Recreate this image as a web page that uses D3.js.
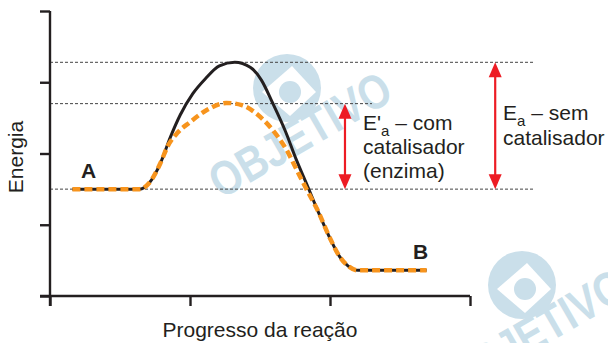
<!DOCTYPE html>
<html lang="pt">
<head>
<meta charset="UTF-8">
<title>Energia de ativação</title>
<style>
  body { margin: 0; background: #fff; }
  svg { display: block; font-family: "Liberation Sans", Arial, sans-serif; }
</style>
</head>
<body>
<svg id="chart" width="608" height="343"></svg>
<script src="https://d3js.org/d3.v7.min.js"></script>
<script>

    // curve without catalyst (black, solid)
    var progressUncat = [0.16, 0.64, 0.71, 0.79, 0.86, 0.93, 1.02, 1.11, 1.21, 1.32, 1.43, 1.51, 1.59, 1.68, 1.76, 1.84, 1.91, 2.0, 2.07, 2.13, 2.2, 2.69];
    var energyUncat   = [1.5, 1.5, 1.59, 1.87, 2.23, 2.54, 2.84, 3.05, 3.23, 3.28, 3.21, 3.03, 2.71, 2.32, 1.91, 1.54, 1.21, 0.81, 0.55, 0.42, 0.36, 0.36];

    // curve with catalyst / enzyme (orange, dashed)
    var progressCat = [0.16, 0.64, 0.71, 0.79, 0.84, 0.91, 1.0, 1.12, 1.26, 1.37, 1.48, 1.59, 1.69, 1.77, 1.84, 1.91, 2.0, 2.07, 2.13, 2.2, 2.69];
    var energyCat   = [1.5, 1.5, 1.59, 1.87, 2.1, 2.29, 2.44, 2.61, 2.71, 2.68, 2.55, 2.33, 2.05, 1.74, 1.47, 1.21, 0.81, 0.55, 0.42, 0.36, 0.36];

    // energy levels: reactants, peak with catalyst, peak without catalyst
    var levels = [
        {name: "reagentes", e: 1.5,  end: 3.46},
        {name: "cat",       e: 2.7,  end: 2.3},
        {name: "semcat",    e: 3.28, end: 3.46}
    ];

    var xTicks = [0, 1, 2, 3];
    var yTicks = [0, 1, 2, 3, 4];

    var svg = d3.select("#chart"),
        ink = "#231f20",
        red = "#ed1c24",
        orange = "#f7941d",
        wm = "#cadfea";

    var x = d3.scaleLinear().domain([0, 3]).range([50, 470]),
        y = d3.scaleLinear().domain([0, 4]).range([296, 11]);

    // watermark (behind everything)
    function watermark(dx, dy) {
        var g = svg.append("g").attr("transform", "translate(" + dx + "," + dy + ")");
        g.append("circle").attr("cx", 287).attr("cy", 88).attr("r", 34).attr("fill", wm);
        g.append("path")
            .attr("d", "M262,92 L292,66 L316,92 L290,116 Z")
            .attr("fill", "#fff");
        g.append("circle").attr("cx", 290).attr("cy", 92).attr("r", 11).attr("fill", wm);
        g.append("text")
            .attr("transform", "translate(302,138) rotate(-30) scale(0.95,1.15)")
            .attr("text-anchor", "middle")
            .attr("dominant-baseline", "middle")
            .attr("font-size", 42)
            .attr("font-weight", "bold")
            .attr("fill", wm)
            .text("OBJETIVO");
    }
    watermark(0, 0);
    watermark(235, 197);

    // dashed reference lines
    svg.append("g").selectAll("line")
        .data(levels)
        .join("line")
        .attr("x1", x(0)).attr("x2", function (d) { return x(d.end); })
        .attr("y1", function (d) { return y(d.e); })
        .attr("y2", function (d) { return y(d.e); })
        .attr("stroke", "#444")
        .attr("stroke-width", 1)
        .attr("stroke-dasharray", "3,2");

    // axes
    var xAxis = d3.axisBottom(x).tickValues(xTicks).tickSize(10).tickSizeOuter(0).tickFormat("");
    var yAxis = d3.axisLeft(y).tickValues(yTicks).tickSize(10).tickSizeOuter(0).tickFormat("");

    var gx = svg.append("g").attr("transform", "translate(0," + y(0) + ")").call(xAxis);
    var gy = svg.append("g").attr("transform", "translate(" + x(0) + ",0)").call(yAxis);
    [gx, gy].forEach(function (g) {
        g.select(".domain").remove();
        g.selectAll(".tick line").attr("stroke", ink).attr("stroke-width", 2.4);
    });
    // axis lines, crossing a bit past the origin
    svg.append("line").attr("x1", x(0) - 10).attr("x2", x(3)).attr("y1", y(0)).attr("y2", y(0))
        .attr("stroke", ink).attr("stroke-width", 2.4);
    svg.append("line").attr("x1", x(0)).attr("x2", x(0)).attr("y1", y(4)).attr("y2", y(0) + 10)
        .attr("stroke", ink).attr("stroke-width", 2.4);

    // curves
    var line = d3.line()
        .x(function (d) { return x(d[0]); })
        .y(function (d) { return y(d[1]); })
        .curve(d3.curveMonotoneX);

    svg.append("path")
        .attr("d", line(d3.zip(progressUncat, energyUncat)))
        .attr("fill", "none")
        .attr("stroke", ink)
        .attr("stroke-width", 3);

    svg.append("path")
        .attr("d", line(d3.zip(progressCat, energyCat)))
        .attr("fill", "none")
        .attr("stroke", orange)
        .attr("stroke-width", 4.5)
        .attr("stroke-dasharray", "8,4");

    // double arrows
    function arrow(px, e1, e2) {
        var x0 = x(px), yTop = y(e2), yBot = y(e1), hl = 15, hw = 6.5;
        svg.append("line")
            .attr("x1", x0).attr("x2", x0)
            .attr("y1", yTop + hl - 2).attr("y2", yBot - hl + 2)
            .attr("stroke", red).attr("stroke-width", 2.2);
        svg.append("path")
            .attr("d", "M" + x0 + "," + yTop + " L" + (x0 + hw) + "," + (yTop + hl) + " L" + (x0 - hw) + "," + (yTop + hl) + " Z")
            .attr("fill", red);
        svg.append("path")
            .attr("d", "M" + x0 + "," + yBot + " L" + (x0 + hw) + "," + (yBot - hl) + " L" + (x0 - hw) + "," + (yBot - hl) + " Z")
            .attr("fill", red);
    }
    arrow(2.107, levels[0].e, levels[1].e);
    arrow(3.18, levels[0].e, levels[2].e);

    // texts
    var fs = 21;

    var t1 = svg.append("text").attr("x", 363).attr("y", 130).attr("font-size", fs).attr("fill", ink);
    t1.append("tspan").text("E'");
    t1.append("tspan").attr("font-size", 15).attr("dy", 6).text("a");
    t1.append("tspan").attr("dy", -6).text(" – com");
    svg.append("text").attr("x", 363).attr("y", 154).attr("font-size", fs).attr("fill", ink).text("catalisador");
    svg.append("text").attr("x", 363).attr("y", 178).attr("font-size", fs).attr("fill", ink).text("(enzima)");

    var t2 = svg.append("text").attr("x", 503).attr("y", 120).attr("font-size", fs).attr("fill", ink);
    t2.append("tspan").text("E");
    t2.append("tspan").attr("font-size", 15).attr("dy", 6).text("a");
    t2.append("tspan").attr("dy", -6).text(" – sem");
    svg.append("text").attr("x", 503).attr("y", 145).attr("font-size", fs).attr("fill", ink).text("catalisador");

    svg.append("text").attr("x", 81).attr("y", 178).attr("font-size", fs).attr("font-weight", "bold")
        .attr("fill", ink).text("A");
    svg.append("text").attr("x", 413).attr("y", 259).attr("font-size", fs).attr("font-weight", "bold")
        .attr("fill", ink).text("B");

    svg.append("text")
        .attr("x", (x(0) + x(3)) / 2).attr("y", 337)
        .attr("text-anchor", "middle").attr("font-size", fs).attr("fill", ink)
        .text("Progresso da reação");

    svg.append("text")
        .attr("transform", "translate(23,157) rotate(-90)")
        .attr("text-anchor", "middle").attr("font-size", fs).attr("fill", ink)
        .text("Energia");

</script>
</body>
</html>
